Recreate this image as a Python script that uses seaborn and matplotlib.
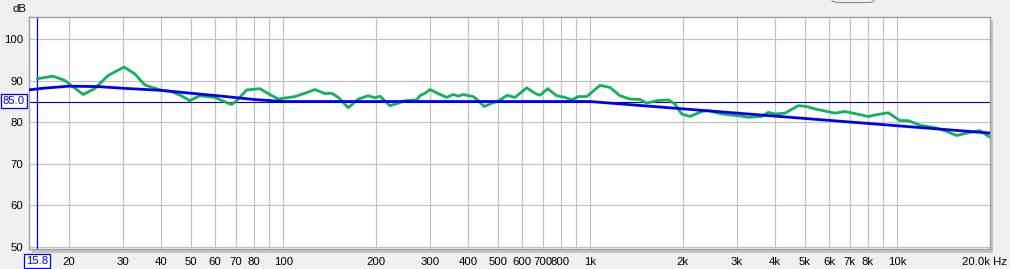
import numpy as np
import pandas as pd
import matplotlib
matplotlib.use("Agg")
import matplotlib.pyplot as plt
import seaborn as sns
from matplotlib.patches import Rectangle, FancyBboxPatch
from matplotlib.transforms import blended_transform_factory
from matplotlib.ticker import NullLocator

# ---------------- data ----------------
meas_freq = [15.8, 17.8, 19.4, 22.3, 24.3, 26.9, 30.3, 32.8, 35.4, 40.1, 43.2, 46.5, 49.6,
             53.4, 59.8, 66.1, 67.9, 70.5, 76.0, 84.0, 89.4, 96.3, 109.2, 117.7, 126.9,
             136.7, 143.8, 151.1, 162.8, 175.5, 189.2, 198.9, 206.5, 222.6, 236.9, 249.1,
             271.9, 278.8, 289.5, 300.6, 319.8, 340.6, 357.9, 371.5, 385.7, 400.5, 415.8,
             431.7, 451.5, 477.3, 501.5, 536.6, 568.4, 620.6, 660.5, 685.7, 726.3, 777.3,
             827.2, 869.8, 913.9, 973.4, 1010.7, 1075.6, 1159.6, 1250, 1347, 1452, 1526,
             1646, 1795, 1888, 1985, 2112, 2306, 2424, 2612, 2816, 3035, 3271, 3617, 3800,
             3996, 4308, 4760, 5069, 5395, 5741, 6267, 6753, 7376, 8045, 8672, 9348, 10205,
             10859, 11855, 13440, 14490, 15616, 16827, 18590, 20045]
meas_db = [90.5, 91.1, 90.1, 86.7, 88.1, 91.3, 93.3, 91.7, 89.0, 87.7, 87.4, 86.4, 85.2,
           86.4, 86.0, 84.6, 84.3, 85.2, 87.8, 88.1, 86.9, 85.6, 86.2, 87.0, 87.9,
           86.9, 87.0, 86.0, 83.5, 85.6, 86.4, 85.9, 86.3, 84.0, 84.6, 85.2,
           85.4, 86.4, 87.0, 87.9, 86.9, 86.0, 86.7, 86.3, 86.7, 86.4, 86.2,
           85.2, 83.8, 84.6, 85.1, 86.5, 86.0, 88.3, 87.0, 86.5, 88.1, 86.4,
           86.0, 85.4, 86.2, 86.2, 87.2, 88.9, 88.4, 86.4, 85.6, 85.5, 84.6,
           85.2, 85.4, 84.4, 82.0, 81.4, 82.6, 82.8, 82.2, 81.8, 81.6, 81.2, 81.4, 82.4,
           82.0, 82.2, 84.0, 83.8, 83.2, 82.8, 82.2, 82.6, 82.0, 81.4, 81.9, 82.3, 80.4,
           80.4, 79.3, 78.6, 77.8, 76.8, 77.4, 78.0, 76.4]

target_freq = [14.8, 16.5, 20, 25, 30, 40, 50, 65, 80, 100, 1000, 20050]
target_db = [87.8, 88.2, 88.7, 88.6, 88.2, 87.7, 87.0, 86.2, 85.5, 85.0, 85.0, 77.4]

grid_freqs = [20, 30, 40, 50, 60, 70, 80, 90, 100, 200, 300, 400, 500, 600, 700, 800, 900,
              1000, 2000, 3000, 4000, 5000, 6000, 7000, 8000, 9000, 10000]
grid_labels = ["20", "30", "40", "50", "60", "70", "80", "", "100", "200", "300", "400", "500",
               "600", "700", "800", "", "1k", "2k", "3k", "4k", "5k", "6k", "7k", "8k", "", "10k"]
y_ticks = [50, 60, 70, 80, 90, 100]
y_labels = ["50", "60", "70", "80", "90", "100"]
cursor_freq = 15.8
cursor_label = "15.8"
ref_level = 85.0
ref_label = "85.0"
end_label = "20.0k Hz"
unit_label = "dB"

# ---------------- figure ----------------
sns.set_style("white")
plt.rcParams["font.family"] = ["Liberation Sans", "DejaVu Sans"]
FS = 8.2

W, H = 1010, 269
fig = plt.figure(figsize=(W / 100, H / 100), dpi=100, facecolor="#f0f0f0")
L, R, T, B = 29, 990, 17, 248.5
ax = fig.add_axes([L / W, 1 - B / H, (R - L) / W, (B - T) / H])
ax.set_facecolor("white")

# drop shadow of the plot frame
fig.patches.append(Rectangle(((L + 3) / W, 1 - (B + 4) / H), (R - L) / W, (B - T) / H,
                             transform=fig.transFigure, facecolor="#c4c4c4",
                             edgecolor="none", zorder=-1))
# small button outline at top right
fig.patches.append(FancyBboxPatch((832 / W, 1 - 2.5 / H), 42 / W, 10 / H,
                                  boxstyle="round,pad=0,rounding_size=0.008",
                                  transform=fig.transFigure, facecolor="#f4f4f4",
                                  edgecolor="#8a8a8a", linewidth=0.8, zorder=-1))

ax.set_xscale("log")
ax.set_xlim(14.85, 20050)
ax.set_ylim(49.57, 105.38)

ax.set_xticks(grid_freqs)
ax.set_xticklabels(grid_labels)
ax.xaxis.set_minor_locator(NullLocator())
ax.set_yticks(y_ticks)
ax.set_yticklabels(y_labels)
ax.tick_params(axis="both", length=0, labelsize=FS, colors="#000000")
ax.tick_params(axis="x", pad=6.0)
ax.tick_params(axis="y", pad=4.3)
ax.grid(True, color="#c3c3c3", linewidth=0.9)
ax.set_axisbelow(True)
for s in ax.spines.values():
    s.set_color("#a0a0a0")
    s.set_linewidth(1.0)

# reference level and cursor
ax.axhline(ref_level, color="#0000c0", linewidth=0.8, zorder=2)
ax.axvline(cursor_freq, color="#0000ff", linewidth=0.9, zorder=2)

meas = pd.DataFrame({"freq": meas_freq, "db": meas_db})
targ = pd.DataFrame({"freq": target_freq, "db": target_db})
sns.lineplot(data=meas, x="freq", y="db", ax=ax, color="#12b25a", linewidth=2.0,
             sort=False, estimator=None, zorder=3, solid_joinstyle="round")
sns.lineplot(data=targ, x="freq", y="db", ax=ax, color="#0000f0", linewidth=2.0,
             sort=False, estimator=None, zorder=4, solid_joinstyle="round")
ax.set_xlabel("")
ax.set_ylabel("")

# boxed readouts
box = dict(boxstyle="square,pad=0.15", facecolor="white", edgecolor="#0000ff", linewidth=0.9)
ax.text(cursor_freq, -0.054, cursor_label, transform=blended_transform_factory(ax.transData, ax.transAxes),
        ha="center", va="center", fontsize=FS, color="#0000ff", bbox=box, clip_on=False)
fig.text(14 / W, 1 - 101 / H, ref_label, ha="center", va="center", fontsize=FS,
         color="#0000ff", bbox=box)
fig.text(1007 / W, 1 - 262 / H, end_label, ha="right", va="center", fontsize=FS, color="#000000")
fig.text(19 / W, 1 - 9.5 / H, unit_label, ha="center", va="center", fontsize=FS, color="#000000")

fig.savefig("out.png", dpi=100, facecolor=fig.get_facecolor())
